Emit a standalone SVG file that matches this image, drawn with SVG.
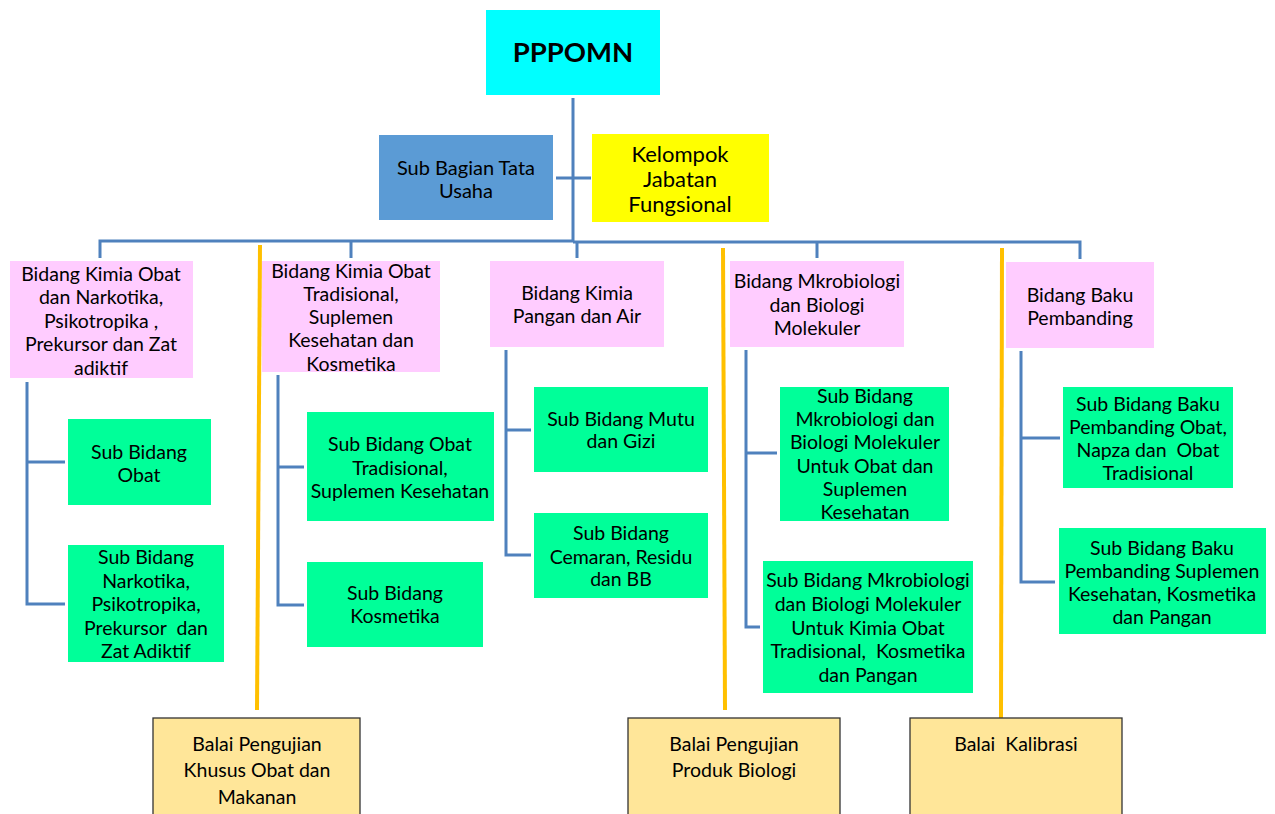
<svg xmlns="http://www.w3.org/2000/svg" width="1275" height="814" viewBox="0 0 1275 814">
<style>
text{font-family:Lato,"Open Sans","Liberation Sans",sans-serif;font-size:19.5px;fill:#000;text-anchor:middle;dominant-baseline:central}
.pink{fill:#FFCCFF}
.green{fill:#00FF99}
.balai{fill:#FFE699;stroke:#333;stroke-width:1.3}
.conn{fill:none;stroke:#4F81BD;stroke-width:3}
.yl{fill:none;stroke:#FFC000;stroke-width:4}
</style>
<g id="connectors">
<path class="conn" d="M573 98V242M556 178H591M100 258V241H573M573 242H1080V259M351 241V258M577 242V258M817 242V258"/>
<path class="conn" d="M27 382V604H65M27 462H65"/>
<path class="conn" d="M278 375V605H304M278 467H304"/>
<path class="conn" d="M506 350V555H531M506 430H531"/>
<path class="conn" d="M746 350V627H760M746 453H777"/>
<path class="conn" d="M1021 351V582H1055M1021 438H1060"/>
<path class="yl" d="M260 245L257 710"/>
<path class="yl" d="M723 248L725 710"/>
<path class="yl" d="M1002 248L1001 718"/>
</g>
<g id="pppomn"><rect x="486" y="10" width="174" height="85" fill="#00FFFF"/><text x="573" y="51" style="font-size:27.5px;font-weight:bold">PPPOMN</text></g>
<g id="tatausaha"><rect x="379" y="135" width="174" height="85" fill="#5B9BD5"/><text x="466" y="167" style="font-size:20px">Sub Bagian Tata</text><text x="466" y="190" style="font-size:20px">Usaha</text></g>
<g id="kelompok"><rect x="592" y="134" width="177" height="88" fill="#FFFF00"/><text x="680" y="153" style="font-size:22px">Kelompok</text><text x="680" y="178" style="font-size:22px">Jabatan</text><text x="680" y="203" style="font-size:22px">Fungsional</text></g>

<g id="bidang1"><rect class="pink" x="10" y="261" width="183" height="117"/><text x="101" y="273">Bidang Kimia Obat</text><text x="101" y="296">dan Narkotika,</text><text x="101" y="320">Psikotropika ,</text><text x="101" y="343">Prekursor dan Zat</text><text x="101" y="367">adiktif</text></g>
<g id="sub1a"><rect class="green" x="68" y="419" width="143" height="86"/><text x="139" y="451">Sub Bidang</text><text x="139" y="474">Obat</text></g>
<g id="sub1b"><rect class="green" x="68" y="545" width="156" height="117"/><text x="146" y="556">Sub Bidang</text><text x="146" y="580">Narkotika,</text><text x="146" y="603">Psikotropika,</text><text x="146" y="627" xml:space="preserve">Prekursor  dan</text><text x="146" y="650">Zat Adiktif</text></g>

<g id="bidang2"><rect class="pink" x="262" y="261" width="178" height="111"/><text x="351" y="270">Bidang Kimia Obat</text><text x="351" y="293">Tradisional,</text><text x="351" y="316">Suplemen</text><text x="351" y="339">Kesehatan dan</text><text x="351" y="363">Kosmetika</text></g>
<g id="sub2a"><rect class="green" x="307" y="412" width="187" height="109"/><text x="400" y="443">Sub Bidang Obat</text><text x="400" y="467">Tradisional,</text><text x="400" y="490">Suplemen Kesehatan</text></g>
<g id="sub2b"><rect class="green" x="307" y="562" width="176" height="85"/><text x="395" y="592">Sub Bidang</text><text x="395" y="615">Kosmetika</text></g>

<g id="bidang3"><rect class="pink" x="490" y="261" width="174" height="86"/><text x="577" y="292">Bidang Kimia</text><text x="577" y="315">Pangan dan Air</text></g>
<g id="sub3a"><rect class="green" x="534" y="387" width="174" height="85"/><text x="621" y="418">Sub Bidang Mutu</text><text x="621" y="440">dan Gizi</text></g>
<g id="sub3b"><rect class="green" x="534" y="513" width="174" height="85"/><text x="621" y="532">Sub Bidang</text><text x="621" y="556">Cemaran, Residu</text><text x="621" y="578">dan BB</text></g>

<g id="bidang4"><rect class="pink" x="730" y="261" width="174" height="86"/><text x="817" y="280">Bidang Mkrobiologi</text><text x="817" y="304">dan Biologi</text><text x="817" y="327">Molekuler</text></g>
<g id="sub4a"><rect class="green" x="780" y="387" width="169" height="134"/><text x="865" y="395">Sub Bidang</text><text x="865" y="418">Mkrobiologi dan</text><text x="865" y="441">Biologi Molekuler</text><text x="865" y="465">Untuk Obat dan</text><text x="865" y="488">Suplemen</text><text x="865" y="511">Kesehatan</text></g>
<g id="sub4b"><rect class="green" x="763" y="561" width="210" height="132"/><text x="868" y="579">Sub Bidang Mkrobiologi</text><text x="868" y="603">dan Biologi Molekuler</text><text x="868" y="627">Untuk Kimia Obat</text><text x="868" y="650" xml:space="preserve">Tradisional,  Kosmetika</text><text x="868" y="674">dan Pangan</text></g>

<g id="bidang5"><rect class="pink" x="1006" y="262" width="148" height="86"/><text x="1080" y="294">Bidang Baku</text><text x="1080" y="317">Pembanding</text></g>
<g id="sub5a"><rect class="green" x="1063" y="387" width="170" height="101"/><text x="1148" y="403">Sub Bidang Baku</text><text x="1148" y="426">Pembanding Obat,</text><text x="1148" y="449" xml:space="preserve">Napza dan  Obat</text><text x="1148" y="472">Tradisional</text></g>
<g id="sub5b"><rect class="green" x="1059" y="528" width="207" height="106"/><text x="1162" y="547">Sub Bidang Baku</text><text x="1162" y="570">Pembanding Suplemen</text><text x="1162" y="593">Kesehatan, Kosmetika</text><text x="1162" y="616">dan Pangan</text></g>

<g id="balai1"><rect class="balai" x="153" y="718" width="207" height="110"/><text x="257" y="743">Balai Pengujian</text><text x="257" y="769">Khusus Obat dan</text><text x="257" y="796">Makanan</text></g>
<g id="balai2"><rect class="balai" x="628" y="718" width="212" height="110"/><text x="734" y="743">Balai Pengujian</text><text x="734" y="769">Produk Biologi</text></g>
<g id="balai3"><rect class="balai" x="910" y="718" width="212" height="110"/><text x="1016" y="743" xml:space="preserve">Balai  Kalibrasi</text></g>
</svg>
